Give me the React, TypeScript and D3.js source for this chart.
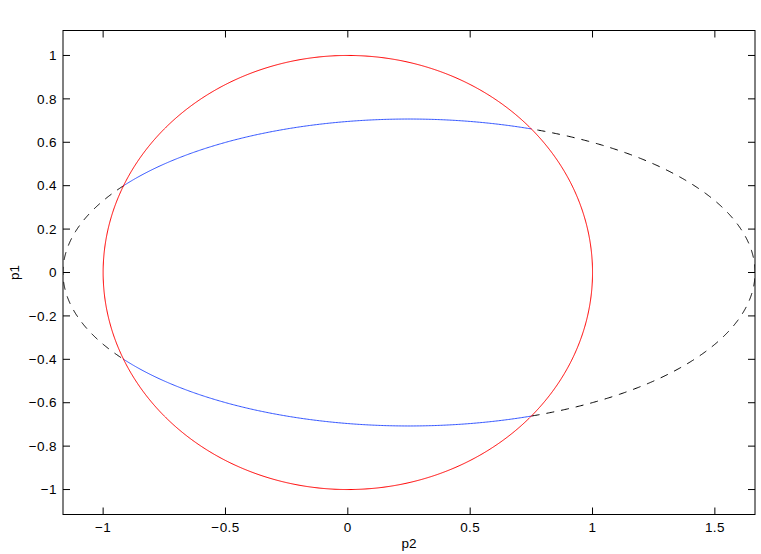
import React from "react";
import * as d3 from "d3";

// Axis domains and ticks
const xDomain = [-1.164, 1.664];
const yDomain = [-1.115, 1.115];
const xTicks = [-1, -0.5, 0, 0.5, 1, 1.5];
const yTicks = [-1, -0.8, -0.6, -0.4, -0.2, 0, 0.2, 0.4, 0.6, 0.8, 1];

// Curves: circle (red) and ellipse (dashed black, blue part inside circle)
const circleCenter = [0, 0];
const circleRadius = [1, 1];
const ellipseCenter = [0.25, 0];
const ellipseRadius = [Math.SQRT2, Math.SQRT1_2];

const W = 761;
const H = 554;
const M = { left: 63, right: 6, top: 30.5, bottom: 39.5 };

export default function App() {
  const x = d3.scaleLinear().domain(xDomain).range([M.left, W - M.right]);
  const y = d3.scaleLinear().domain(yDomain).range([H - M.bottom, M.top]);

  const thetas = d3.range(0, 1441).map((i) => (i / 1440) * 2 * Math.PI);
  const circlePts = thetas.map((t) => [
    circleCenter[0] + circleRadius[0] * Math.cos(t),
    circleCenter[1] + circleRadius[1] * Math.sin(t),
  ]);
  const ellipsePts = thetas.map((t) => [
    ellipseCenter[0] + ellipseRadius[0] * Math.cos(t),
    ellipseCenter[1] + ellipseRadius[1] * Math.sin(t),
  ]);
  const r2 = (p: number[]) => p[0] * p[0] + p[1] * p[1];

  const line = d3
    .line<number[]>()
    .x((d) => x(d[0]))
    .y((d) => y(d[1]));
  const blueLine = d3
    .line<number[]>()
    .defined((p) => r2(p) <= 1.003)
    .x((d) => x(d[0]))
    .y((d) => y(d[1]));
  const dashLine = d3
    .line<number[]>()
    .defined((p) => r2(p) >= 0.997)
    .x((d) => x(d[0]))
    .y((d) => y(d[1]));

  const x0 = M.left;
  const x1 = W - M.right;
  const y0 = M.top;
  const y1 = H - M.bottom;
  const tickLen = 7;
  const font = "'Liberation Sans', Arial, Helvetica, sans-serif";
  const fs = 13.5;
  const ls = 0.4;
  const fmt = d3.format("");

  return (
    <svg width={W} height={H} style={{ position: "absolute", left: 0, top: 0 }}>
      <rect x={0} y={0} width={W} height={H} fill="#fff" />
      <defs>
        <clipPath id="plotclip">
          <rect x={x0} y={y0} width={x1 - x0} height={y1 - y0} />
        </clipPath>
      </defs>
      <g clipPath="url(#plotclip)">
        <path d={dashLine(ellipsePts) || ""} fill="none" stroke="#000" strokeWidth={1} strokeDasharray="8,7" />
        <path d={blueLine(ellipsePts) || ""} fill="none" stroke="#3355ff" strokeWidth={1} />
        <path d={line(circlePts) || ""} fill="none" stroke="#ff0000" strokeWidth={1} />
      </g>
      {/* ticks */}
      {xTicks.map((t) => (
        <g key={"xt" + t}>
          <line x1={x(t)} x2={x(t)} y1={y1} y2={y1 - tickLen} stroke="#000" />
          <line x1={x(t)} x2={x(t)} y1={y0} y2={y0 + tickLen} stroke="#000" />
          <text x={x(t)} y={y1 + 17} textAnchor="middle" fontFamily={font} fontSize={fs} letterSpacing={ls} fill="#000">
            {fmt(t)}
          </text>
        </g>
      ))}
      {yTicks.map((t) => (
        <g key={"yt" + t}>
          <line x1={x0} x2={x0 + tickLen} y1={y(t)} y2={y(t)} stroke="#000" />
          <line x1={x1} x2={x1 - tickLen} y1={y(t)} y2={y(t)} stroke="#000" />
          <text x={x0 - 6} y={y(t)} dy="0.35em" textAnchor="end" fontFamily={font} fontSize={fs} letterSpacing={ls} fill="#000">
            {fmt(Math.round(t * 10) / 10)}
          </text>
        </g>
      ))}
      <rect x={x0} y={y0} width={x1 - x0} height={y1 - y0} fill="none" stroke="#000" strokeWidth={1} />
      <text x={(x0 + x1) / 2} y={548} textAnchor="middle" fontFamily={font} fontSize={fs} fill="#000">
        p2
      </text>
      <text
        transform={`translate(19,${(y0 + y1) / 2}) rotate(-90)`}
        textAnchor="middle"
        fontFamily={font}
        fontSize={fs}
        fill="#000"
      >
        p1
      </text>
    </svg>
  );
}
